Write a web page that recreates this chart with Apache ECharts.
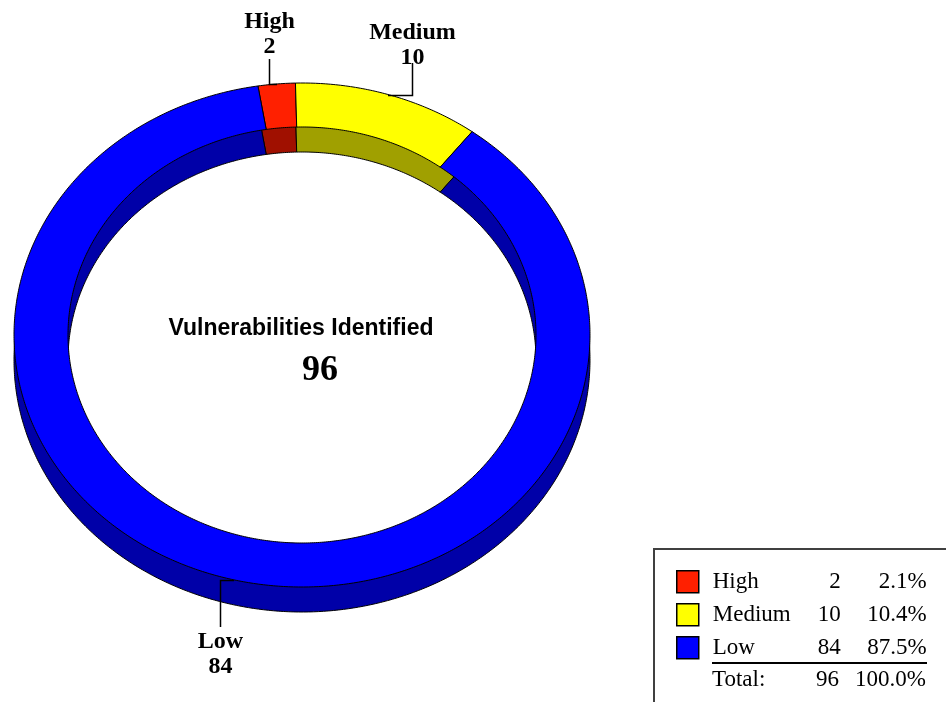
<!DOCTYPE html>
<html>
<head>
<meta charset="utf-8">
<script src="https://cdn.jsdelivr.net/npm/echarts@6/dist/echarts.min.js"></script>
<style>
  html, body { margin: 0; padding: 0; background: #ffffff; }
  #chart { width: 946px; height: 702px; }
</style>
</head>
<body>
<div id="chart"></div>
<script>
// Severity breakdown
const categories = ['High', 'Medium', 'Low'];
const counts = [2, 10, 84];
const centerTitle = 'Vulnerabilities Identified';
const totalLabel = 'Total:';

// Face (top) and side (extruded wall) colours per severity
const faceColors = ['#ff2000', '#ffff00', '#0000ff'];
const sideColors = ['#a01000', '#a0a000', '#0000a8'];

const total = counts.reduce((a, b) => a + b, 0);
const pct = counts.map(v => (v / total * 100).toFixed(1));

// Elliptical ring geometry (pixels) and start angle (deg, clockwise from 12 o'clock)
const ring = { cx: 302, cy: 335, rxOut: 288, ryOut: 252, rxIn: 234, ryIn: 208, depth: 25, startDeg: -8.8 };
// Leader line for each slice: horizontal shift to the label, where the line stops,
// and where the two-line label is anchored
const leaders = [
  { dx: -8, endY: 59, labelY: 59, below: false },
  { dx: 24, endY: 63, labelY: 70, below: false },
  { dx: -14, endY: 627, labelY: 629, below: true }
];

const cum = [];
counts.reduce((acc, v, i) => { cum[i] = acc; return acc + v; }, 0);

function pt(deg, rx, ry, dy) {
  const r = deg * Math.PI / 180;
  return [ring.cx + rx * Math.sin(r), ring.cy - ry * Math.cos(r) + dy];
}
function sector(a0, a1, dy) {
  const n = Math.max(2, Math.ceil((a1 - a0) / 0.5));
  const pts = [];
  for (let k = 0; k <= n; k++) pts.push(pt(a0 + (a1 - a0) * k / n, ring.rxOut, ring.ryOut, dy));
  for (let k = n; k >= 0; k--) pts.push(pt(a0 + (a1 - a0) * k / n, ring.rxIn, ring.ryIn, dy));
  return pts;
}

function makeRender(i) {
  return function (params, api) {
    const v = api.value(0);
    const a0 = ring.startDeg + cum[i] / total * 360;
    const a1 = a0 + v / total * 360;
    const mid = (a0 + a1) / 2;
    const m = pt(mid, ring.rxOut, ring.ryOut, 0);
    const lx = Math.round(m[0] + leaders[i].dx) + 0.5;
    const my = Math.round(m[1]) + 0.5;
    const ly = leaders[i].endY;
    return {
      type: 'group',
      children: [
        { type: 'polygon', z2: 0, shape: { points: sector(a0, a1, ring.depth) },
          style: { fill: sideColors[i], stroke: '#000', lineWidth: 1 } },
        { type: 'polygon', z2: 10, shape: { points: sector(a0, a1, 0) },
          style: { fill: faceColors[i], stroke: '#000', lineWidth: 1 } },
        { type: 'polyline', z2: 20, shape: { points: [[Math.round(m[0]), my], [lx, my], [lx, ly]] },
          style: { fill: null, stroke: '#000', lineWidth: 1.5 } },
        { type: 'text', z2: 20,
          style: {
            text: categories[i] + '\n' + v,
            x: lx, y: leaders[i].labelY,
            align: 'center', verticalAlign: leaders[i].below ? 'top' : 'bottom',
            font: 'bold 24px "Liberation Serif"', lineHeight: 25, fill: '#000'
          } }
      ]
    };
  };
}

const chart = echarts.init(document.getElementById('chart'), null, { renderer: 'canvas' });

const series = categories.map((name, i) => ({
  type: 'custom',
  name: name,
  coordinateSystem: 'none',
  itemStyle: { color: faceColors[i] },
  data: [[counts[i]]],
  renderItem: makeRender(i),
  silent: true
}));

const legendFont = { fontFamily: 'Liberation Serif', fontSize: 23, color: '#000', lineHeight: 22 };

chart.setOption({
  animation: false,
  backgroundColor: '#ffffff',
  series: series,
  legend: {
    orient: 'vertical',
    left: 676, top: 570,
    padding: 0,
    itemWidth: 22, itemHeight: 22, itemGap: 9.5,
    icon: 'rect',
    selectedMode: false,
    data: categories,
    itemStyle: { borderColor: '#000', borderWidth: 1.5 },
    formatter: name => {
      const i = categories.indexOf(name);
      return '{n|' + name + '}{v|' + counts[i] + '}{p|' + pct[i] + '%}';
    },
    textStyle: {
      ...legendFont,
      rich: {
        n: { ...legendFont, width: 100, padding: [0, 0, 0, 9] },
        v: { ...legendFont, width: 28, align: 'right' },
        p: { ...legendFont, width: 86, align: 'right' }
      }
    }
  },
  graphic: [
    { type: 'text', z: 5,
      style: { text: centerTitle, x: 301, y: 329, align: 'center', verticalAlign: 'middle',
               font: 'bold 23px "Liberation Sans"', fill: '#000' } },
    { type: 'text', z: 5,
      style: { text: String(total), x: 320, y: 371, align: 'center', verticalAlign: 'middle',
               font: 'bold 36px "Liberation Serif"', fill: '#000' } },
    { type: 'rect', z: 1,
      shape: { x: 654, y: 549, width: 400, height: 300 },
      style: { fill: null, stroke: '#404040', lineWidth: 2 } },
    { type: 'line', z: 5,
      shape: { x1: 712, y1: 663, x2: 927, y2: 663 },
      style: { stroke: '#000', lineWidth: 2 } },
    { type: 'text', z: 5,
      style: { text: totalLabel, x: 712, y: 680, align: 'left', verticalAlign: 'middle',
               font: '23px "Liberation Serif"', fill: '#000' } },
    { type: 'text', z: 5,
      style: { text: String(total), x: 839, y: 680, align: 'right', verticalAlign: 'middle',
               font: '23px "Liberation Serif"', fill: '#000' } },
    { type: 'text', z: 5,
      style: { text: (100).toFixed(1) + '%', x: 926, y: 680, align: 'right', verticalAlign: 'middle',
               font: '23px "Liberation Serif"', fill: '#000' } }
  ]
});
</script>
</body>
</html>
